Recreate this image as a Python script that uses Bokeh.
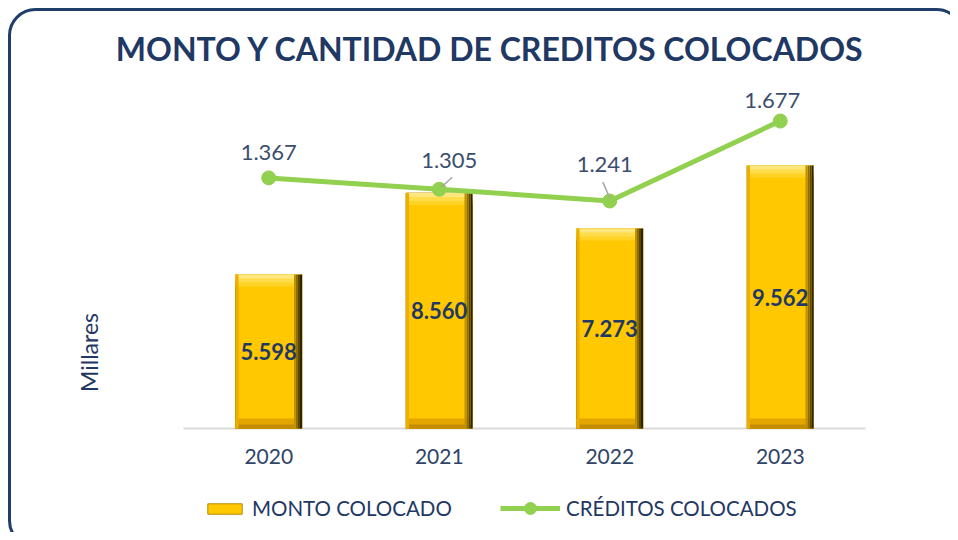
from bokeh.plotting import figure
from bokeh.models import (Range1d, ColumnDataSource, LabelSet, Label,
                          Legend, LegendItem, BoxAnnotation)
from bokeh.transform import dodge
from bokeh.embed import file_html
from bokeh.resources import INLINE
from bokeh.core.properties import value
import math

# ---------------- data ----------------
years = ["2020", "2021", "2022", "2023"]
monto = [5598, 8560, 7273, 9562]
creditos = [1367, 1305, 1241, 1677]

title_text = "MONTO Y CANTIDAD DE CREDITOS COLOCADOS"
y_title = "Millares"
serie_barras = "MONTO COLOCADO"
serie_linea = "CRÉDITOS COLOCADOS"

Y1_MAX = 12000   # primary axis maximum
Y2_MAX = 1800    # secondary axis maximum

# ---------------- layout (pixels) ----------------
W, H = 950, 532
PLOT_L, PLOT_R = 183, 865      # plot area, left/right
PLOT_T, PLOT_B = 98, 428       # plot area, top/bottom (from top)
NAVY = "#1F3864"
FONT = "Lato"
# data-label placement of the line labels (pixels: right, up from the point)
LBL_DX = [0, 10, -5, -8]
LBL_DY = [25, 29, 36, 21]
# leader lines (pixels from the point): (dx0, dy0, dx1, dy1) or None
LEADERS = [None, (2, 2, 13, 12), None, None]
LEADERS[2] = (0, 3, -7, 19)


def fmt(v):
    return f"{v:,}".replace(",", ".")


n = len(years)
px_x = (PLOT_R - PLOT_L) / n
uy1 = Y1_MAX / (PLOT_B - PLOT_T)   # data units per pixel
uy2 = Y2_MAX / (PLOT_B - PLOT_T)

xpos = [i + 0.5 for i in range(n)]

src = ColumnDataSource(dict(
    x=xpos,
    year=years,
    monto=monto,
    mid=[v / 2 for v in monto],
    creditos=creditos,
    monto_lbl=[fmt(v) for v in monto],
    cred_lbl=[fmt(v) for v in creditos],
    lx=[x + dx / px_x for x, dx in zip(xpos, LBL_DX)],
    ly=[c + dy * uy2 for c, dy in zip(creditos, LBL_DY)],
    zero=[0] * n,
))

p = figure(x_range=Range1d(-PLOT_L / px_x, n + (W - PLOT_R) / px_x),
           y_range=Range1d(-(H - PLOT_B) * uy1, PLOT_B * uy1),
           width=W, height=H, output_backend="svg", toolbar_location=None,
           min_border=0)
p.extra_y_ranges = {"n": Range1d(-(H - PLOT_B) * uy2, PLOT_B * uy2)}
p.outline_line_color = None
p.xaxis.visible = False
p.yaxis.visible = False
p.xgrid.visible = False
p.ygrid.visible = False
p.background_fill_color = "white"
p.border_fill_color = "white"

# horizontal category axis line
p.segment(x0=0, x1=n, y0=0, y1=0, line_color="#D9D9D9", line_width=2)
p.add_layout(LabelSet(x="x", y="zero", text="year", source=src, y_offset=-28,
                      text_align="center", text_baseline="middle",
                      text_font=value(FONT), text_font_size="21px",
                      text_color="#2F4468"))

# ---------------- bevelled bars ----------------
BW = 0.39
HB = BW / 2
SW = 2 / px_x  # 2px strip

base = p.vbar(x="x", top="monto", width=BW, source=src, fill_color="#FFC800",
              line_color="#B88A00", line_width=1)

# bottom bevel strips (pixels from bottom)
for a, b, c in [(0, 10, "#E3A600"), (0, 4, "#C48C00")]:
    p.vbar(x="x", bottom=a * uy1, top=b * uy1, width=BW, source=src,
           fill_color=c, line_color=None)
# top bevel strips (pixels from top)
for a, b, c in [(0, 12, "#FFD325"), (0, 8, "#FFDC4A"), (0, 4, "#FFE77F")]:
    src.data[f"tb_{a}_{b}"] = [v - b * uy1 for v in monto]
    p.vbar(x="x", top="monto", bottom=f"tb_{a}_{b}", width=BW, source=src,
           fill_color=c, line_color=None)
# left bevel
p.vbar(x=dodge("x", -HB + 1.5 * SW / 2, range=p.x_range), top="monto",
       width=1.5 * SW, source=src, fill_color="#EDAE00", line_color=None)
# right bevel (dark gradient)
for i, c in enumerate(["#2E2300", "#5C4600", "#8F6D00", "#C09200"]):
    p.vbar(x=dodge("x", HB - SW / 2 - i * SW, range=p.x_range), top="monto",
           width=SW, source=src, fill_color=c, line_color=None)

# ---------------- line ----------------
line_r = p.line(x="x", y="creditos", source=src, y_range_name="n",
                line_color="#92D050", line_width=5)
dots = p.scatter(x="x", y="creditos", source=src, y_range_name="n", size=14,
                 fill_color="#92D050", line_color="#92D050")

# leader lines of moved labels
lead = dict(x0=[], y0=[], x1=[], y1=[])
for x, c, ld in zip(xpos, creditos, LEADERS):
    if ld:
        lead["x0"].append(x + ld[0] / px_x)
        lead["y0"].append(c + ld[1] * uy2)
        lead["x1"].append(x + ld[2] / px_x)
        lead["y1"].append(c + ld[3] * uy2)
p.segment(x0="x0", y0="y0", x1="x1", y1="y1", source=ColumnDataSource(lead),
          y_range_name="n", line_color="#A6A6A6", line_width=1.5)

# ---------------- labels ----------------
p.add_layout(LabelSet(x="x", y="mid", text="monto_lbl", source=src,
                      text_align="center", text_baseline="middle",
                      text_font=value(FONT), text_font_style="bold",
                      text_font_size="22px", text_color=NAVY))
p.add_layout(LabelSet(x="lx", y="ly", text="cred_lbl", source=src,
                      y_range_name="n",
                      text_align="center", text_baseline="middle",
                      text_font=value(FONT), text_font_size="22px",
                      text_color="#3B4E6E"))

p.add_layout(Label(x=490, y=H - 48, x_units="screen", y_units="screen",
                   text=title_text, text_align="center", text_baseline="middle",
                   text_font=FONT, text_font_style="bold",
                   text_font_size="32px", text_color=NAVY))
p.add_layout(Label(x=88, y=H - 352, x_units="screen", y_units="screen",
                   text=y_title, angle=math.pi / 2, text_align="center",
                   text_baseline="middle", text_font=FONT,
                   text_font_size="23px", text_color=NAVY))

# rounded frame
p.add_layout(BoxAnnotation(left=9, right=962, top=H - 9, bottom=-14,
                           left_units="screen", right_units="screen",
                           top_units="screen", bottom_units="screen",
                           fill_alpha=0, line_color="#1F3E6B", line_alpha=1,
                           line_width=3, border_radius=26))

leg_common = dict(orientation="horizontal", border_line_color=None,
                  background_fill_alpha=0, label_text_font=FONT,
                  label_text_font_size="20.5px", label_text_color=NAVY,
                  padding=0, margin=0, label_standoff=6)
p.add_layout(Legend(items=[LegendItem(label=serie_barras, renderers=[base])],
                    location=(203, 12), glyph_width=43, glyph_height=13,
                    **leg_common), "center")
p.add_layout(Legend(items=[LegendItem(label=serie_linea,
                                      renderers=[line_r, dots])],
                    location=(500, 9), glyph_width=60, glyph_height=30,
                    **leg_common), "center")

open("out.html", "w").write(file_html(p, INLINE))
